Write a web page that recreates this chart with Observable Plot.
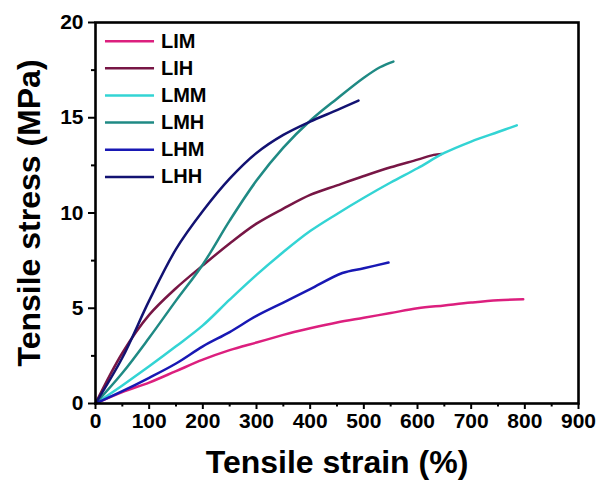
<!DOCTYPE html>
<html>
<head>
<meta charset="utf-8">
<script src="https://cdn.jsdelivr.net/npm/d3@7"></script>
<script src="https://cdn.jsdelivr.net/npm/@observablehq/plot@0.6"></script>
<style>
  html, body { margin: 0; padding: 0; background: #fff; }
  #chart svg { display: block; }
</style>
</head>
<body>
<div id="chart"></div>
<script>
// ---- data ----
const seriesNames = ["LIM", "LIH", "LMM", "LMH", "LHM", "LHH"];
const seriesColors = ["#dc1f7e", "#771645", "#33d4d4", "#1f8a84", "#1818b4", "#121272"];

const LIM_x = [0, 50, 100, 150, 200, 250, 300, 350, 370, 400, 450, 500, 550, 600, 650, 700, 750, 797];
const LIM_y = [0, 0.6, 1.1, 1.7, 2.3, 2.8, 3.2, 3.6, 3.75, 3.95, 4.25, 4.5, 4.75, 5.0, 5.15, 5.3, 5.42, 5.47];

const LIH_x = [0, 50, 100, 150, 200, 250, 300, 350, 400, 450, 500, 550, 600, 630, 645];
const LIH_y = [0, 2.65, 4.65, 6.05, 7.25, 8.4, 9.44, 10.23, 10.95, 11.45, 11.94, 12.4, 12.8, 13.05, 13.1];

const LMM_x = [0, 50, 100, 150, 200, 250, 300, 350, 400, 450, 500, 550, 600, 650, 700, 750, 785];
const LMM_y = [0, 0.95, 1.95, 3.0, 4.1, 5.45, 6.75, 7.95, 9.05, 9.95, 10.8, 11.6, 12.35, 13.15, 13.75, 14.25, 14.6];

const LMH_x = [0, 50, 100, 150, 200, 250, 300, 350, 400, 450, 500, 530, 555];
const LMH_y = [0, 1.6, 3.45, 5.4, 7.3, 9.6, 11.7, 13.43, 14.84, 16.0, 17.1, 17.65, 17.95];

const LHM_x = [0, 50, 100, 150, 200, 250, 300, 350, 400, 460, 500, 546];
const LHM_y = [0, 0.65, 1.35, 2.1, 3.0, 3.75, 4.6, 5.3, 6.0, 6.85, 7.1, 7.4];

const LHH_x = [0, 50, 100, 150, 200, 250, 300, 350, 400, 450, 490];
const LHH_y = [0, 2.4, 5.4, 8.1, 10.1, 11.8, 13.15, 14.1, 14.8, 15.4, 15.9];

const xTicks = [0, 100, 200, 300, 400, 500, 600, 700, 800, 900];
const yTicks = [0, 5, 10, 15, 20];
const xMinorTicks = [50, 150, 250, 350, 450, 550, 650, 750, 850];
const yMinorTicks = [2.5, 7.5, 12.5, 17.5];

const xTitle = "Tensile strain (%)";
const yTitle = "Tensile stress (MPa)";

// ---- build table ----
const xs = [LIM_x, LIH_x, LMM_x, LMH_x, LHM_x, LHH_x];
const ys = [LIM_y, LIH_y, LMM_y, LMH_y, LHM_y, LHH_y];
const rows = [];
seriesNames.forEach((name, i) => {
  xs[i].forEach((x, j) => rows.push({series: name, x, y: ys[i][j]}));
});

// legend laid out inside the frame (data coords of the frame)
const legend = seriesNames.map((name, i) => ({name, i}));
const legY = d => 19.02 - d.i * 1.425;

const font = "'Liberation Sans', Arial, Helvetica, sans-serif";

const chart = Plot.plot({
  width: 597,
  height: 484,
  marginLeft: 95,
  marginTop: 22,
  marginRight: 19,
  marginBottom: 81,
  style: {fontFamily: font, fontWeight: "bold", fontSize: "20px", background: "#fff", color: "#000"},
  x: {domain: [0, 900]},
  y: {domain: [0, 20]},
  color: {domain: seriesNames, range: seriesColors},
  marks: [
    Plot.line(rows, {x: "x", y: "y", z: "series", stroke: "series", strokeWidth: 2.5, curve: "catmull-rom"}),
    // legend
    Plot.ruleY(legend, {y: legY, x1: 18.6, x2: 110, stroke: "name", strokeWidth: 2.5}),
    Plot.text(legend, {y: legY, x: 122, text: "name", textAnchor: "start", fontSize: 20, fontWeight: "bold", fill: "#000"}),
    // axes
    Plot.axisX({ticks: xTicks, tickSize: 6, tickPadding: 4, tickFormat: d => String(d), fontSize: 21, fontWeight: "bold", strokeWidth: 2, label: null}),
    Plot.axisX({ticks: xMinorTicks, tickSize: 3.5, strokeWidth: 2, tickFormat: () => "", label: null}),
    Plot.axisY({ticks: yTicks, tickSize: 7, tickPadding: 5, tickFormat: d => String(d), fontSize: 21, fontWeight: "bold", strokeWidth: 2, label: null}),
    Plot.axisY({ticks: yMinorTicks, tickSize: 4, strokeWidth: 2, tickFormat: () => "", label: null}),
    Plot.frame({stroke: "#000", strokeWidth: 2.6}),
    // titles
    Plot.text([xTitle], {frameAnchor: "bottom", dy: 69, text: d => d, fontSize: 32, fontWeight: "bold", fill: "#000"}),
    Plot.text([yTitle], {frameAnchor: "left", dx: -66, rotate: -90, textAnchor: "middle", text: d => d, fontSize: 32, fontWeight: "bold", fill: "#000"})
  ]
});

document.getElementById("chart").appendChild(chart);
</script>
</body>
</html>
